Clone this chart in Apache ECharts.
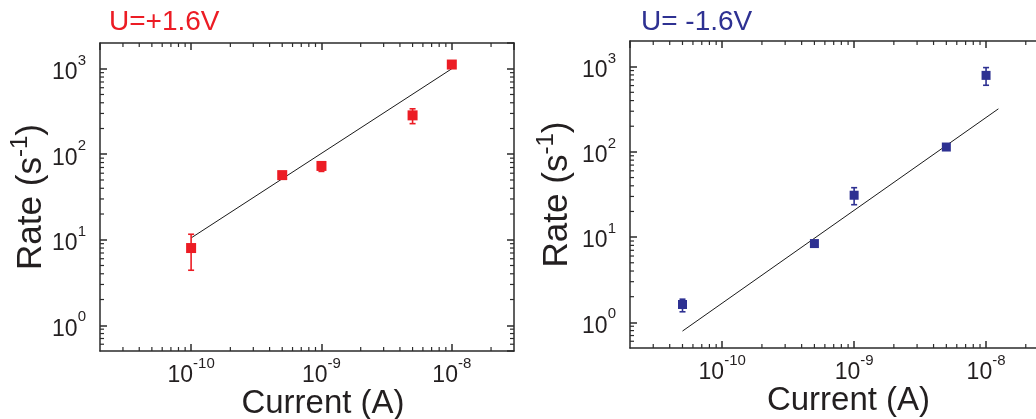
<!DOCTYPE html>
<html><head><meta charset="utf-8">
<script src="https://cdn.jsdelivr.net/npm/echarts@6/dist/echarts.min.js"></script>
<style>html,body{margin:0;padding:0;background:#fff}#c{width:1036px;height:419px}</style>
</head><body><div id="c"></div>
<script>
// ---- data ----
const titlePos = 'U=+1.6V';
const titleNeg = 'U= -1.6V';

const currentPos = [1e-10, 5e-10, 1e-9, 5e-9, 1e-8];
const ratePos = [8.0, 57, 73, 285, 1120];
const ratePosLow = [4.4, 57, 63, 228, 1120];
const ratePosHigh = [11.6, 57, 80, 340, 1120];
const fitPosX = [1e-10, 1e-8];
const fitPosY = [10.5, 1000];

const currentNeg = [5e-11, 5e-10, 1e-9, 5e-9, 1e-8];
const rateNeg = [1.62, 8.4, 31, 114, 790];
const rateNegLow = [1.33, 8.4, 24, 114, 605];
const rateNegHigh = [1.87, 8.4, 38, 114, 975];
const fitNegX = [5e-11, 1.24e-8];
const fitNegY = [0.79, 320];

const xRange = [2e-11, 3e-8];
const yRange = [0.5, 2000];
const xMinorTicks = [3e-11, 4e-11, 5e-11, 6e-11, 7e-11, 8e-11, 9e-11,
  2e-10, 3e-10, 4e-10, 5e-10, 6e-10, 7e-10, 8e-10, 9e-10,
  2e-9, 3e-9, 4e-9, 5e-9, 6e-9, 7e-9, 8e-9, 9e-9, 2e-8];
const yMinorTicks = [0.6, 0.7, 0.8, 0.9, 2, 3, 4, 5, 6, 7, 8, 9,
  20, 30, 40, 50, 60, 70, 80, 90, 200, 300, 400, 500, 600, 700, 800, 900];

const xName = 'Current (A)';
const yNameBase = 'Rate (s';
const yNameSup = '-1';

// ---- styles ----
const RED = '#ec1c24', BLUE = '#2e3192', INK = '#231f20', AXIS = '#2b2b2b';
const NARROW = "'Liberation Sans Narrow', 'Liberation Sans', Arial, sans-serif";
const SANS = "'Liberation Sans', Arial, Helvetica, sans-serif";

function powLabel(v) {
  const e = Math.log10(v);
  if (Math.abs(e - Math.round(e)) > 1e-6) return '';
  return '{b|10}{s|' + Math.round(e) + '}';
}
const tickRich = {
  b: { fontSize: 23, fontFamily: NARROW, color: INK, lineHeight: 31, verticalAlign: 'bottom' },
  s: { fontSize: 15, fontFamily: NARROW, color: INK, lineHeight: 15, verticalAlign: 'top' }
};
const axisLineStyle = { color: AXIS, width: 1.5 };
const tickStyle = { show: true, inside: true, length: 7, lineStyle: { color: AXIS, width: 1.5 } };

function xAxes(gi, nameShiftX) {
  return [
    { type: 'log', logBase: 10, gridIndex: gi, min: xRange[0], max: xRange[1], position: 'bottom',
      axisLine: { show: true, lineStyle: axisLineStyle }, axisTick: tickStyle, splitLine: { show: false },
      axisLabel: { show: true, margin: 5, formatter: powLabel, rich: tickRich, showMinLabel: false, showMaxLabel: false },
      name: xName, nameLocation: 'middle', nameGap: 36, nameMoveOverlap: false,
      nameTextStyle: { fontSize: 33, fontFamily: SANS, color: INK, padding: [0, 0, 0, nameShiftX] } },
    { type: 'log', logBase: 10, gridIndex: gi, min: xRange[0], max: xRange[1], position: 'top',
      axisLine: { show: true, lineStyle: axisLineStyle }, axisTick: tickStyle, splitLine: { show: false },
      axisLabel: { show: false } }
  ];
}
function yAxes(gi, gap) {
  return [
    { type: 'log', logBase: 10, gridIndex: gi, min: yRange[0], max: yRange[1], position: 'left',
      axisLine: { show: true, lineStyle: axisLineStyle }, axisTick: tickStyle, splitLine: { show: false },
      axisLabel: { show: true, margin: 14, formatter: powLabel, rich: tickRich, showMinLabel: false, showMaxLabel: false },
      name: '{n|' + yNameBase + '}{u|' + yNameSup + '}{n|)}', nameLocation: 'middle', nameGap: gap, nameMoveOverlap: false,
      nameTextStyle: { rich: {
        n: { fontSize: 35, fontFamily: SANS, color: INK, lineHeight: 41, verticalAlign: 'bottom' },
        u: { fontSize: 24, fontFamily: SANS, color: INK, lineHeight: 24, verticalAlign: 'top' } } } },
    { type: 'log', logBase: 10, gridIndex: gi, min: yRange[0], max: yRange[1], position: 'right',
      axisLine: { show: true, lineStyle: axisLineStyle }, axisTick: tickStyle, splitLine: { show: false },
      axisLabel: { show: false } }
  ];
}

function minorTickRender(params, api) {
  const kind = api.value(2);
  const L = 4;
  const st = { stroke: AXIS, lineWidth: 1.2 };
  if (kind === 0) {
    const v = api.value(0);
    const b = api.coord([v, yRange[0]]);
    const t = api.coord([v, yRange[1]]);
    return { type: 'group', children: [
      { type: 'line', shape: { x1: b[0], y1: b[1], x2: b[0], y2: b[1] - L }, style: st },
      { type: 'line', shape: { x1: t[0], y1: t[1], x2: t[0], y2: t[1] + L }, style: st } ] };
  } else {
    const v = api.value(1);
    const l = api.coord([xRange[0], v]);
    const r = api.coord([xRange[1], v]);
    return { type: 'group', children: [
      { type: 'line', shape: { x1: l[0], y1: l[1], x2: l[0] + L, y2: l[1] }, style: st },
      { type: 'line', shape: { x1: r[0], y1: r[1], x2: r[0] - L, y2: r[1] }, style: st } ] };
  }
}
function minorData() {
  return xMinorTicks.map(v => [v, yRange[0], 0]).concat(yMinorTicks.map(v => [xRange[0], v, 1]));
}
function errorRender(color) {
  return function (params, api) {
    const x = api.value(0);
    const lo = api.coord([x, api.value(1)]);
    const hi = api.coord([x, api.value(2)]);
    const w = 3;
    const st = { stroke: color, lineWidth: 1.6 };
    return { type: 'group', children: [
      { type: 'line', shape: { x1: lo[0], y1: lo[1], x2: hi[0], y2: hi[1] }, style: st },
      { type: 'line', shape: { x1: hi[0] - w, y1: hi[1], x2: hi[0] + w, y2: hi[1] }, style: st },
      { type: 'line', shape: { x1: lo[0] - w, y1: lo[1], x2: lo[0] + w, y2: lo[1] }, style: st } ] };
  };
}

const option = {
  animation: false,
  backgroundColor: '#fff',
  title: [
    { text: titlePos, left: 109, top: 8, padding: 0,
      textStyle: { color: RED, fontSize: 28, fontWeight: 'normal', fontFamily: SANS } },
    { text: titleNeg, left: 641, top: 8, padding: 0,
      textStyle: { color: BLUE, fontSize: 28, fontWeight: 'normal', fontFamily: SANS } }
  ],
  grid: [
    { left: 100, top: 43, width: 414, height: 308, outerBoundsMode: 'none', containLabel: false },
    { left: 630, top: 41, width: 419, height: 307, outerBoundsMode: 'none', containLabel: false }
  ],
  xAxis: xAxes(0, 32).concat(xAxes(1, 18)),
  yAxis: yAxes(0, 51).concat(yAxes(1, 55)),
  series: [
    { type: 'custom', xAxisIndex: 0, yAxisIndex: 0, silent: true, clip: false, z: 5,
      renderItem: minorTickRender, data: minorData() },
    { type: 'custom', xAxisIndex: 2, yAxisIndex: 2, silent: true, clip: false, z: 5,
      renderItem: minorTickRender, data: minorData() },
    { type: 'line', xAxisIndex: 0, yAxisIndex: 0, showSymbol: false, symbol: 'none', silent: true,
      lineStyle: { color: '#1a1a1a', width: 1 }, data: fitPosX.map((x, i) => [x, fitPosY[i]]), z: 3 },
    { type: 'line', xAxisIndex: 2, yAxisIndex: 2, showSymbol: false, symbol: 'none', silent: true,
      lineStyle: { color: '#1a1a1a', width: 1 }, data: fitNegX.map((x, i) => [x, fitNegY[i]]), z: 3 },
    { type: 'custom', xAxisIndex: 0, yAxisIndex: 0, silent: true, z: 4,
      renderItem: errorRender(RED), data: currentPos.map((x, i) => [x, ratePosLow[i], ratePosHigh[i]]) },
    { type: 'custom', xAxisIndex: 2, yAxisIndex: 2, silent: true, z: 4,
      renderItem: errorRender(BLUE), data: currentNeg.map((x, i) => [x, rateNegLow[i], rateNegHigh[i]]) },
    { type: 'scatter', xAxisIndex: 0, yAxisIndex: 0, symbol: 'rect', symbolSize: 10, silent: true, z: 6,
      itemStyle: { color: RED, opacity: 1 }, data: currentPos.map((x, i) => [x, ratePos[i]]) },
    { type: 'scatter', xAxisIndex: 2, yAxisIndex: 2, symbol: 'rect', symbolSize: 9, silent: true, z: 6,
      itemStyle: { color: BLUE, opacity: 1 }, data: currentNeg.map((x, i) => [x, rateNeg[i]]) }
  ]
};
const chart = echarts.init(document.getElementById('c'), null, { renderer: 'canvas' });
chart.setOption(option);
</script>
</body></html>
